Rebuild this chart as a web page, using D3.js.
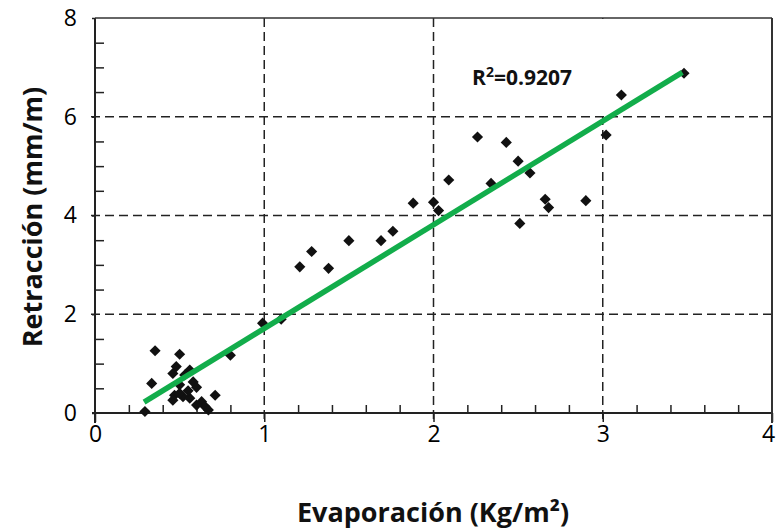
<!DOCTYPE html>
<html><head><meta charset="utf-8">
<script src="https://cdn.jsdelivr.net/npm/d3@7"></script>
<style>body{margin:0;background:#fff}svg{display:block}</style>
</head><body>
<script>
// Data
const evaporacion = [3.48,3.11,3.02,2.26,2.43,2.50,2.57,2.09,2.34,2.66,2.68,2.90,2.51,1.88,2.00,2.03,1.76,1.69,1.50,1.28,1.21,1.38,0.99,1.10,0.80,
  0.355,0.50,0.48,0.46,0.56,0.335,0.50,0.58,0.47,0.52,0.56,0.71,0.46,0.63,0.65,0.67,0.295,0.60,0.53,0.55,0.60,0.50];
const retraccion = [6.88,6.44,5.63,5.59,5.48,5.10,4.86,4.72,4.65,4.33,4.16,4.30,3.84,4.25,4.27,4.10,3.68,3.49,3.49,3.27,2.96,2.93,1.82,1.90,1.17,
  1.26,1.19,0.94,0.80,0.87,0.60,0.57,0.63,0.36,0.33,0.30,0.36,0.26,0.23,0.13,0.06,0.03,0.16,0.77,0.45,0.52,0.40];
const trendX = [0.29, 3.47];
const trendY = [0.22, 6.90];
const xTicks = [0,1,2,3,4];
const yTicks = [0,2,4,6,8];
const xTitle = "Evaporación (Kg/m²)";
const yTitle = "Retracción (mm/m)";

const W = 776, H = 529;
const m = {left:95, right:4, top:18, bottom:116};
const svg = d3.select("body").append("svg").attr("width",W).attr("height",H);
const x = d3.scaleLinear().domain([0,4]).range([m.left, W-m.right]);
const y = d3.scaleLinear().domain([0,8]).range([H-m.bottom, m.top]);
const font = "'Open Sans', sans-serif";

// gridlines
const g = svg.append("g");
g.selectAll("line.vg").data(xTicks.slice(1,-1)).join("line")
  .attr("x1",d=>x(d)).attr("x2",d=>x(d)).attr("y1",y(8)).attr("y2",y(0)+9)
  .attr("stroke","#222").attr("stroke-width",1.5).attr("stroke-dasharray","9,5");
g.selectAll("line.hg").data(yTicks.slice(1,-1)).join("line")
  .attr("y1",d=>y(d)).attr("y2",d=>y(d)).attr("x1",x(0)-4).attr("x2",x(4))
  .attr("stroke","#222").attr("stroke-width",1.5).attr("stroke-dasharray","9,5");

// label box (white) hiding grid
svg.append("rect").attr("x",450).attr("y",y(8)+1).attr("width",160).attr("height",y(6)-y(8)-3).attr("fill","#fff");

// minor ticks
const xMinor = d3.range(0,4.001,0.2).filter(v=>Math.abs(v-Math.round(v))>1e-6);
const yMinor = d3.range(0,8.001,0.5).filter(v=>Math.abs(v/2-Math.round(v/2))>1e-6);
svg.append("g").attr("transform",`translate(0,${y(0)})`)
  .call(d3.axisBottom(x).tickValues(xMinor).tickSizeInner(-8).tickSizeOuter(0).tickFormat(""))
  .call(s=>s.select(".domain").remove())
  .selectAll("line").attr("stroke","#222").attr("stroke-width",1.5);
svg.append("g").attr("transform",`translate(${x(0)},0)`)
  .call(d3.axisLeft(y).tickValues(yMinor).tickSizeInner(-9).tickSizeOuter(0).tickFormat(""))
  .call(s=>s.select(".domain").remove())
  .selectAll("line").attr("stroke","#222").attr("stroke-width",1.5);

// major axes with labels
const xa = svg.append("g").attr("transform",`translate(0,${y(0)})`)
  .call(d3.axisBottom(x).tickValues(xTicks).tickSize(9).tickPadding(4).tickFormat(d3.format("d")));
xa.select(".domain").remove();
xa.selectAll("line").attr("stroke","#222").attr("stroke-width",1.5);
xa.selectAll("text").attr("font-family",font).attr("font-size",23).attr("fill","#000");
xa.selectAll(".tick").filter(d=>d===4).select("text").attr("dx",-4);
const ya = svg.append("g").attr("transform",`translate(${x(0)},0)`)
  .call(d3.axisLeft(y).tickValues(yTicks).tickSize(3).tickPadding(15).tickFormat(d3.format("d")));
ya.select(".domain").remove();
ya.selectAll("line").attr("stroke","#222").attr("stroke-width",1.5);
ya.selectAll("text").attr("font-family",font).attr("font-size",23).attr("fill","#000");

// frame
svg.append("line").attr("x1",x(0)-3).attr("x2",x(4)).attr("y1",y(0)).attr("y2",y(0)).attr("stroke","#222").attr("stroke-width",2);
svg.append("line").attr("x1",x(0)).attr("x2",x(0)).attr("y1",y(8)).attr("y2",y(0)+10).attr("stroke","#222").attr("stroke-width",2);
svg.append("line").attr("x1",x(0)).attr("x2",x(4)).attr("y1",y(8)).attr("y2",y(8)).attr("stroke","#333").attr("stroke-width",1.5);
svg.append("line").attr("x1",x(4)).attr("x2",x(4)).attr("y1",y(8)).attr("y2",y(0)+10).attr("stroke","#333").attr("stroke-width",2);

// points
const sym = d3.symbol().type(d3.symbolSquare).size(62);
svg.append("g").selectAll("path").data(evaporacion.map((v,i)=>[v,retraccion[i]])).join("path")
  .attr("d",sym).attr("transform",d=>`translate(${x(d[0])},${y(d[1])}) rotate(45)`)
  .attr("fill","#111");

// trend line
svg.append("line").attr("x1",x(trendX[0])).attr("y1",y(trendY[0])).attr("x2",x(trendX[1])).attr("y2",y(trendY[1]))
  .attr("stroke","#12ad4b").attr("stroke-width",5.5);

// R2 label
const r2 = svg.append("text").attr("x",472).attr("y",85).attr("font-family",font).attr("font-weight","bold")
  .attr("font-size",21).attr("fill","#111");
r2.append("tspan").text("R");
r2.append("tspan").text("2").attr("font-size",14).attr("dy",-8);
r2.append("tspan").text("=0.9207").attr("dy",8);

// titles
svg.append("text").attr("x",433).attr("y",522).attr("text-anchor","middle").attr("font-family",font)
  .attr("font-weight","bold").attr("font-size",27).attr("fill","#111").text(xTitle);
svg.append("text").attr("transform",`translate(42,217) rotate(-90)`).attr("text-anchor","middle").attr("font-family",font)
  .attr("font-weight","bold").attr("font-size",27).attr("fill","#111").text(yTitle);
</script>
</body></html>
